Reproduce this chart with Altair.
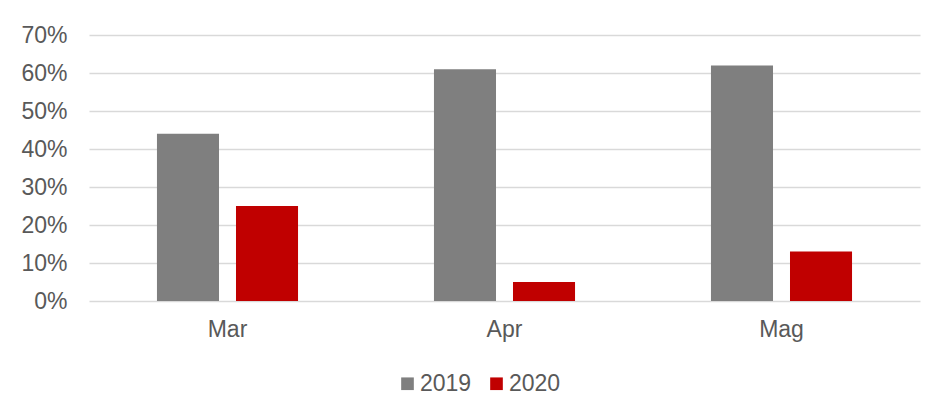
import altair as alt
import pandas as pd

months = ["Mar", "Apr", "Mag"]
series = ["2019", "2020"]
v2019 = [0.44, 0.61, 0.62]
v2020 = [0.25, 0.05, 0.13]
y_ticks = [0, 0.1, 0.2, 0.3, 0.4, 0.5, 0.6, 0.7]
colors = ["#7f7f7f", "#c00000"]

rows = []
for m, a, b in zip(months, v2019, v2020):
    rows.append({"mese": m, "anno": "2019", "valore": a})
    rows.append({"mese": m, "anno": "2020", "valore": b})
df = pd.DataFrame(rows)

FONT = "Liberation Sans"
TXT = "#595959"

chart = alt.Chart(df).mark_bar().encode(
    x=alt.X("mese:N", sort=months,
            scale=alt.Scale(paddingInner=0, paddingOuter=0),
            axis=alt.Axis(title=None, labelAngle=0, domain=False, ticks=False,
                          labelPadding=17, labelFontSize=23, labelColor=TXT,
                          labelFont=FONT, grid=False)),
    xOffset=alt.XOffset("anno:N", sort=series,
                        scale=alt.Scale(paddingInner=0.215, paddingOuter=0.86)),
    y=alt.Y("valore:Q",
            scale=alt.Scale(domain=[0, 0.7], nice=False),
            axis=alt.Axis(title=None, values=y_ticks, format=".0%", domain=False,
                          ticks=False, labelPadding=22, labelFontSize=23,
                          labelColor=TXT, labelFont=FONT, grid=True,
                          gridColor="#d9d9d9", gridWidth=1.5)),
    color=alt.Color("anno:N",
                    scale=alt.Scale(domain=series, range=colors),
                    legend=alt.Legend(title=None, orient="none", direction="horizontal",
                                      legendX=307, legendY=337,
                                      symbolType="square", symbolSize=160,
                                      symbolStrokeWidth=0, labelOffset=1,
                                      columnPadding=13, labelFontSize=23,
                                      labelColor=TXT, labelFont=FONT)),
).properties(
    width=831,
    height=266,
    autosize=alt.AutoSizeParams(type="none"),
    padding={"left": 81, "top": 27, "right": 9, "bottom": 99},
).configure(background="white").configure_view(stroke=None)

chart.save("out.html", embed_options={"renderer": "svg", "actions": False})
